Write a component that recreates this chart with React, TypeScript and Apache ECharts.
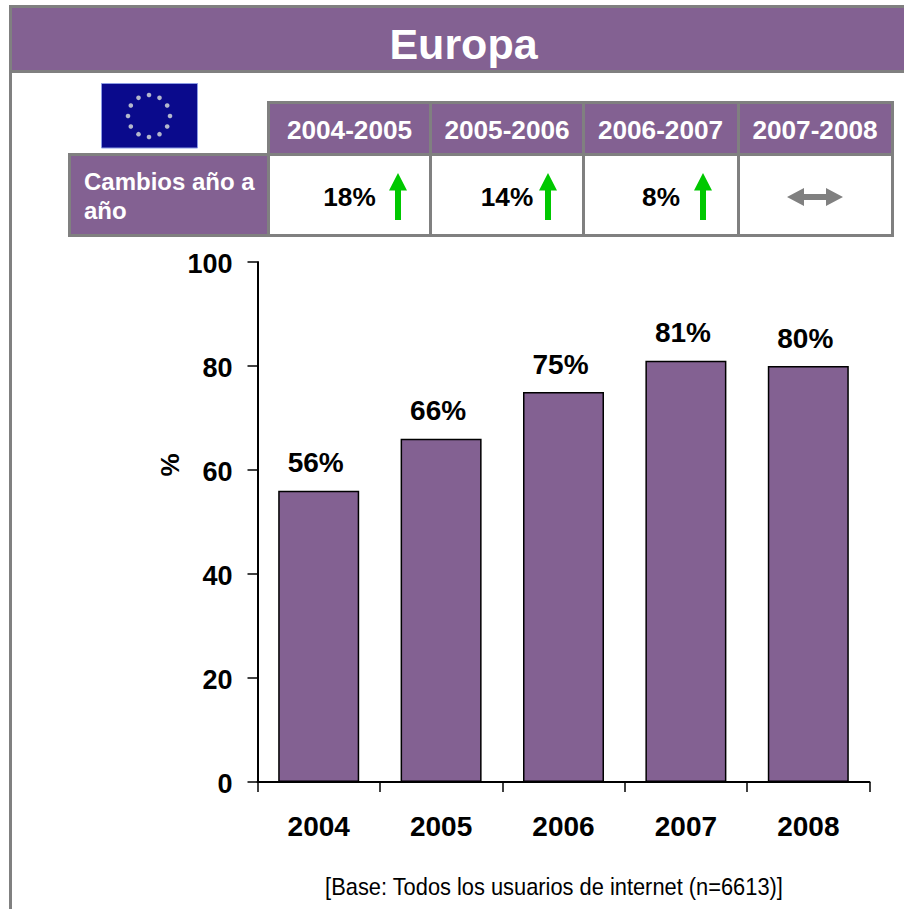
import React, { useEffect, useRef } from "react";
import * as echarts from "echarts";

const years = ["2004", "2005", "2006", "2007", "2008"];
const values = [56, 66, 75, 81, 80];
const yTicks = [0, 20, 40, 60, 80, 100];
const periods = ["2004-2005", "2005-2006", "2006-2007", "2007-2008"];
const changes = ["18%", "14%", "8%", ""];
const titleText = "Europa";
const rowLabel = ["Cambios año a", "año"];
const yName = "%";
const baseNote = "[Base: Todos los usuarios de internet (n=6613)]";

const PURPLE = "#836192";
const GREY = "#808080";
const GREEN = "#00C800";
const FONT = "'Liberation Sans', Arial, sans-serif";

const colEdges = [268.5, 430.5, 583.5, 738.5, 892.5];
const periodCenters = [349.5, 507, 660.5, 815];
const changeCenters = [349.5, 507, 661];
const arrowCenters = [398, 548, 703];

const boldText = (x: number, y: number, text: string, size: number, fill: string, align = "center") => ({
  type: "text", x, y, silent: true,
  style: { text, fill, font: `bold ${size}px ${FONT}`, align, verticalAlign: "middle" },
});

const upArrow = (c: number) => ({
  type: "polygon", silent: true,
  shape: { points: [[c, 173], [c + 9, 190.5], [c + 3, 190.5], [c + 3, 220], [c - 3, 220], [c - 3, 190.5], [c - 9, 190.5]] },
  style: { fill: GREEN },
});

const rule = (x1: number, y1: number, x2: number, y2: number, w = 3) => ({
  type: "line", silent: true, shape: { x1, y1, x2, y2 }, style: { stroke: GREY, lineWidth: w },
});

const stars = Array.from({ length: 12 }, (_, i) => {
  const a = (i * Math.PI) / 6;
  return {
    type: "circle", silent: true,
    shape: { cx: 149 + 21 * Math.sin(a), cy: 116 - 21 * Math.cos(a), r: 2.3 },
    style: { fill: "#b4b8cc" },
  };
});

export default function App() {
  const ref = useRef<HTMLDivElement>(null);
  useEffect(() => {
    const chart = echarts.init(ref.current!, null, { renderer: "svg" });
    chart.setOption({
      animation: false,
      backgroundColor: "#ffffff",
      grid: { left: 257.5, top: 262, width: 612, height: 520, containLabel: false },
      xAxis: {
        type: "category",
        data: years,
        axisLine: { lineStyle: { color: "#000", width: 2 } },
        axisTick: { show: true, length: 10, alignWithLabel: false, lineStyle: { color: "#000", width: 1.5 } },
        axisLabel: { color: "#000", fontFamily: FONT, fontWeight: "bold", fontSize: 28, margin: 30 },
      },
      yAxis: {
        type: "value",
        min: 0,
        max: 100,
        interval: 20,
        name: yName,
        nameLocation: "middle",
        nameGap: 75,
        nameMoveOverlap: false,
        nameRotate: 90,
        nameTextStyle: { color: "#000", fontFamily: FONT, fontWeight: "bold", fontSize: 26, padding: [0, 0, 0, 114] },
        splitLine: { show: false },
        axisLine: { show: true, onZero: false, lineStyle: { color: "#000", width: 2 } },
        axisTick: { show: true, length: 10, lineStyle: { color: "#000", width: 1.5 } },
        axisLabel: {
          margin: 25,
          formatter: (v: number) => (yTicks.includes(v) ? `{n|${v}}` : ""),
          rich: {
            n: { color: "#000", fontFamily: FONT, fontWeight: "bold", fontSize: 27, padding: [3, 0, 0, 0] },
          },
        },
      },
      series: [
        {
          type: "bar",
          data: values,
          barWidth: 81,
          itemStyle: { color: PURPLE, borderColor: "#000", borderWidth: 1.5 },
          label: {
            show: true, position: "top", distance: 12, formatter: "{c}%", offset: [-3, -2],
            color: "#000", fontFamily: FONT, fontWeight: "bold", fontSize: 28,
          },
        },
      ],
      graphic: {
        elements: [
          { type: "rect", silent: true, shape: { x: 10.5, y: 6.5, width: 900, height: 65 }, style: { fill: PURPLE, stroke: GREY, lineWidth: 3 } },
          rule(10.5, 6.5, 10.5, 909),
          boldText(463.5, 44, titleText, 43, "#fff"),
          { type: "rect", silent: true, shape: { x: 101.5, y: 83.5, width: 96, height: 64.5 }, style: { fill: "#0A0A8C", stroke: "#8C9CE4", lineWidth: 1 } },
          ...stars,
          { type: "rect", silent: true, shape: { x: 268.5, y: 102.5, width: 624, height: 52 }, style: { fill: PURPLE } },
          { type: "rect", silent: true, shape: { x: 69.5, y: 154.5, width: 199, height: 81 }, style: { fill: PURPLE } },
          rule(268.5, 102.5, 892.5, 102.5),
          rule(69.5, 154.5, 892.5, 154.5),
          rule(69.5, 235.5, 892.5, 235.5),
          rule(69.5, 153, 69.5, 237),
          ...colEdges.map((x) => rule(x, 101, x, 237)),
          ...periods.map((p, i) => boldText(periodCenters[i], 130, p, 26.2, "#fff")),
          boldText(84, 181, rowLabel[0], 24, "#fff", "left"),
          boldText(84, 210, rowLabel[1], 24, "#fff", "left"),
          ...changeCenters.map((c, i) => boldText(c, 197, changes[i], 26.2, "#000")),
          ...arrowCenters.map(upArrow),
          {
            type: "polygon", silent: true,
            shape: { points: [[787, 197], [804, 188], [804, 194], [826, 194], [826, 188], [843, 197], [826, 206], [826, 200], [804, 200], [804, 206]] },
            style: { fill: GREY },
          },
          {
            type: "text", silent: true, x: 554, y: 887, scaleX: 0.91,
            style: { text: baseNote, fill: "#000", font: `24px ${FONT}`, align: "center", verticalAlign: "middle" },
          },
        ],
      },
    });
    return () => chart.dispose();
  }, []);
  return <div ref={ref} style={{ position: "absolute", left: 0, top: 0, width: 904, height: 909 }} />;
}
